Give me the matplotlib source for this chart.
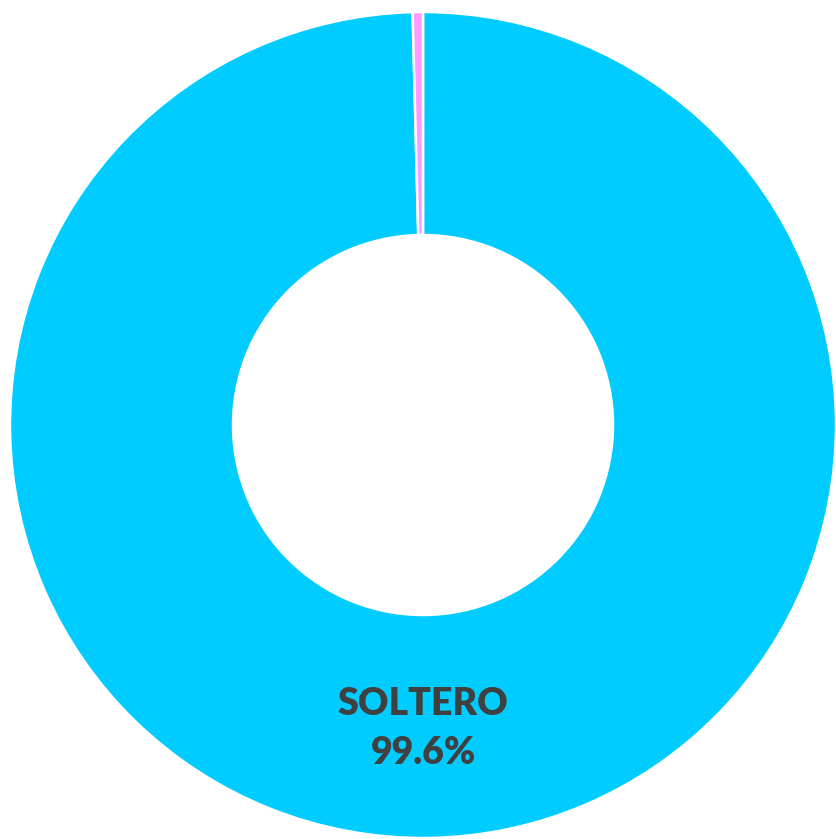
import matplotlib
matplotlib.use("Agg")
import matplotlib.pyplot as plt

labels = ["SOLTERO", "OTRO"]
values = [99.6, 0.4]
colors = ["#00CCFF", "#FF99FF"]

fig = plt.figure(figsize=(8.36, 8.39), dpi=100)
ax = fig.add_axes([0, 0, 1, 1])

ax.pie(values, colors=colors, startangle=90, counterclock=False,
       radius=1.0, wedgeprops=dict(width=0.54, edgecolor="white", linewidth=1.8))

# label of the main slice
ax.text(0, -0.675, labels[0], ha="center", va="center", fontsize=27,
        fontweight="heavy", family="Lato", color="#404040")
ax.text(0, -0.795, f"{values[0]}%", ha="center", va="center", fontsize=27,
        fontweight="heavy", family="Lato", color="#404040")

ax.set_xlim(-423 / 413, 413 / 413)
ax.set_ylim(-414 / 413, 425 / 413)
ax.set_aspect("auto")
ax.axis("off")

fig.savefig("out.png", dpi=100)
